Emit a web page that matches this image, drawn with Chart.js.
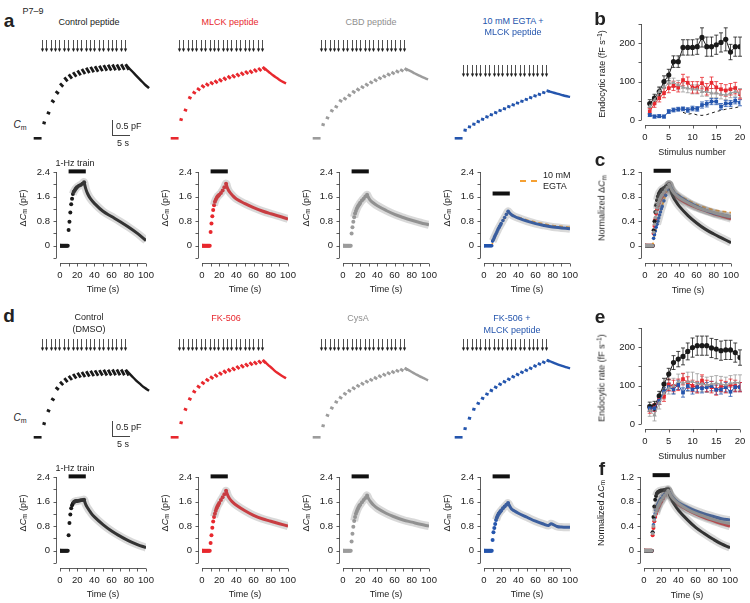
<!DOCTYPE html>
<html>
<head>
<meta charset="utf-8">
<script src="https://cdn.jsdelivr.net/npm/chart.js@4.4.1/dist/chart.umd.min.js"></script>
<style>
  body { margin: 0; width: 750px; height: 603px; position: relative; overflow: hidden; background: #fff;
         font-family: "Liberation Sans", Arial, sans-serif; color: #222; }
  canvas { position: absolute; }
  .t { position: absolute; white-space: nowrap; font-size: 9px; line-height: 1; transform: translate(-50%, -50%); }
  .t sub { font-size: 70%; vertical-align: -0.3em; line-height: 0; }
  .t sup { font-size: 70%; vertical-align: 0.45em; line-height: 0; }
  .bar { position: absolute; background: #444; }
</style>
</head>
<body>
<script>
// ---------- data ----------
const stimTimes = [0,1,2,3,4,5,6,7,8,9,10,11,12,13,14,15,16,17,18,19];

// example Cm traces: value at start of each inter-stimulus segment and its fall (pF above baseline)
const trDecayT = [19.3, 20.5, 21.5, 22.5, 23.5, 24.5];
const trCtrlPepTop  = [0.53,0.87,1.27,1.57,1.83,2.03,2.13,2.2,2.26,2.31,2.35,2.38,2.4,2.42,2.44,2.45,2.46,2.46,2.47,2.47];
const trCtrlPepDrop = [0.03,0.05,0.07,0.09,0.11,0.13,0.14,0.15,0.16,0.17,0.17,0.18,0.18,0.18,0.19,0.19,0.19,0.19,0.19,0.19];
const trCtrlPepDec  = [2.44,2.25,2.1,1.95,1.8,1.67];
const trMlckTop  = [0.64,0.96,1.38,1.55,1.67,1.77,1.83,1.88,1.93,1.98,2.03,2.08,2.12,2.16,2.2,2.24,2.27,2.31,2.34,2.38];
const trMlckDrop = [0.03,0.04,0.05,0.06,0.07,0.08,0.08,0.08,0.09,0.09,0.09,0.09,0.1,0.1,0.1,0.1,0.1,0.1,0.1,0.1];
const trMlckDec  = [2.36,2.22,2.1,2.0,1.9,1.83];
const trCbdTop  = [0.47,0.7,0.94,1.08,1.28,1.35,1.46,1.58,1.66,1.74,1.82,1.9,1.97,2.04,2.1,2.16,2.21,2.26,2.3,2.33];
const trCbdDrop = [0.03,0.04,0.05,0.05,0.06,0.06,0.06,0.07,0.07,0.07,0.07,0.07,0.07,0.07,0.07,0.07,0.07,0.07,0.07,0.07];
const trCbdDec  = [2.32,2.24,2.16,2.09,2.02,1.96];
const trEgtaTop  = [0.28,0.39,0.48,0.57,0.65,0.73,0.8,0.87,0.94,1.0,1.07,1.13,1.19,1.25,1.31,1.37,1.43,1.48,1.54,1.59];
const trEgtaDrop = [0.02,0.02,0.02,0.03,0.03,0.03,0.03,0.03,0.03,0.03,0.03,0.03,0.03,0.03,0.03,0.03,0.03,0.03,0.03,0.03];
const trEgtaDec  = [1.58,1.53,1.49,1.45,1.41,1.38];
const trDmsoTop  = [0.47,0.91,1.3,1.67,1.85,1.97,2.05,2.11,2.15,2.18,2.2,2.22,2.23,2.24,2.25,2.25,2.26,2.26,2.26,2.25];
const trDmsoDrop = [0.03,0.05,0.07,0.09,0.11,0.13,0.14,0.15,0.16,0.17,0.17,0.18,0.18,0.18,0.19,0.19,0.19,0.19,0.19,0.19];
const trDmsoDec  = [2.23,2.05,1.9,1.77,1.65,1.55];
const trFkTop  = [0.5,0.95,1.3,1.55,1.72,1.85,1.95,2.03,2.1,2.17,2.23,2.28,2.33,2.38,2.42,2.46,2.5,2.53,2.56,2.58];
const trFkDrop = [0.03,0.04,0.05,0.06,0.07,0.08,0.08,0.08,0.09,0.09,0.09,0.09,0.1,0.1,0.1,0.1,0.1,0.1,0.1,0.1];
const trFkDec  = [2.56,2.4,2.27,2.15,2.05,1.97];
const trCysTop  = [0.4,0.75,1.0,1.2,1.35,1.48,1.58,1.67,1.75,1.82,1.89,1.95,2.01,2.07,2.12,2.17,2.21,2.25,2.28,2.31];
const trCysDrop = [0.03,0.04,0.05,0.05,0.06,0.06,0.06,0.07,0.07,0.07,0.07,0.07,0.07,0.07,0.07,0.07,0.07,0.07,0.07,0.07];
const trCysDec  = [2.3,2.2,2.12,2.04,1.97,1.9];
const trFkMlckTop  = [0.3,0.65,0.95,1.15,1.32,1.46,1.58,1.69,1.79,1.88,1.96,2.04,2.12,2.19,2.26,2.33,2.4,2.47,2.53,2.58];
const trFkMlckDrop = [0.02,0.03,0.03,0.04,0.04,0.04,0.04,0.05,0.05,0.05,0.05,0.05,0.05,0.05,0.05,0.05,0.05,0.05,0.05,0.05];
const trFkMlckDec  = [2.57,2.5,2.44,2.39,2.34,2.3];

// averaged ΔCm (pF) : rise phase read at these times, decay at those
const riseT  = [0,1,2,3,4,5,6,7,8,9,10,11,12,13,14,15,16,17,18,19,20,22,24,26,28];
const decayT = [28,30,32,35,40,50,60,70,80,90,100];
const base10 = [0,0,0,0,0,0,0,0,0,0];
const dCtrlPepRise = [...base10, 0.51,0.78,1.08,1.35,1.53,1.68,1.76,1.8,1.85,1.88,1.91,1.95,1.98,2.02,2.07];
const dCtrlPepDec  = [2.07,1.85,1.7,1.55,1.38,1.12,0.95,0.78,0.6,0.4,0.17];
const dMlckRise = [...base10, 0.45,0.72,0.96,1.16,1.32,1.43,1.5,1.55,1.6,1.63,1.66,1.72,1.8,1.9,2.02];
const dMlckDec  = [2.02,1.85,1.75,1.65,1.52,1.37,1.24,1.13,1.04,0.96,0.87];
const dCbdRise = [...base10, 0.4,0.6,0.78,0.93,1.05,1.13,1.2,1.26,1.31,1.35,1.4,1.47,1.53,1.6,1.66];
const dCbdDec  = [1.66,1.55,1.47,1.4,1.3,1.15,1.02,0.92,0.83,0.75,0.68];
const dEgtaMlckRise = [...base10, 0.15,0.2,0.27,0.33,0.39,0.45,0.51,0.57,0.62,0.67,0.72,0.82,0.92,1.02,1.12];
const dEgtaMlckDec  = [1.12,1.06,1.01,0.96,0.9,0.8,0.72,0.66,0.61,0.58,0.55];
const egtaT = [0,9,10,14,18,22,28,32,40,50,60,70,80,90,100];
const dEgta = [0,0,0.1,0.35,0.6,0.8,1.08,1.02,0.93,0.84,0.77,0.71,0.66,0.63,0.6];
const dDmsoRise = [...base10, 0.5,0.9,1.18,1.38,1.48,1.54,1.58,1.6,1.61,1.62,1.62,1.63,1.64,1.65,1.66];
const dDmsoDec  = [1.66,1.5,1.4,1.27,1.1,0.85,0.64,0.47,0.32,0.2,0.1];
const dFkRise = [...base10, 0.25,0.5,0.75,0.95,1.1,1.2,1.3,1.38,1.45,1.5,1.55,1.65,1.74,1.84,1.95];
const dFkDec  = [1.95,1.8,1.7,1.6,1.48,1.3,1.15,1.04,0.96,0.88,0.8];
const dCysRise = [...base10, 0.3,0.55,0.78,0.97,1.1,1.2,1.28,1.35,1.41,1.46,1.5,1.58,1.65,1.72,1.8];
const dCysDec  = [1.8,1.68,1.6,1.5,1.38,1.22,1.1,1.0,0.93,0.86,0.8];
const fkMlckDecT = [28,30,32,35,40,50,60,70,75,78,80,85,90,100];
const dFkMlckRise = [...base10, 0.35,0.6,0.74,0.87,1.0,1.08,1.15,1.2,1.24,1.28,1.31,1.38,1.44,1.5,1.55];
const dFkMlckDec  = [1.55,1.45,1.36,1.3,1.22,1.09,0.96,0.86,0.82,0.88,0.86,0.79,0.77,0.76];

// endocytic rate (fF/s) vs stimulus number
const stimNum = [1,2,3,4,5,6,7,8,9,10,11,12,13,14,15,16,17,18,19,20];
const bCtrl = [43,57,74,100,117,152,152,189,189,189,191,215,191,191,196,202,210,177,191,191];
const bCtrlErr = [10,10,12,15,15,15,15,20,20,20,20,25,25,25,25,25,30,20,25,25];
const bMlck = [22,43,57,70,83,89,85,104,97,85,85,96,80,97,85,80,77,80,83,67];
const bMlckErr = [8,10,10,12,12,12,12,15,15,15,15,15,15,15,15,15,15,15,15,12];
const bCbd = [35,52,74,85,96,97,91,85,83,80,80,74,74,70,70,67,65,70,74,70];
const bCbdErr = [8,10,10,12,12,12,12,12,12,12,12,12,12,12,12,12,12,12,12,12];
const bEgtaMlck = [13,9,10,9,22,26,28,29,26,30,29,39,42,48,48,35,43,43,50,45];
const bEgtaMlckErr = [4,4,4,4,5,5,5,5,6,6,6,8,8,8,8,8,8,8,8,8];
const bEgtaX = [8,9,10,11,12,13,14,15,16,17,18,19,20];
const bEgta = [20,15,17,13,12,14,18,22,25,28,30,32,35];
const eDmso = [45,47,73,104,130,160,169,176,189,199,204,204,204,198,195,191,193,193,186,173];
const eDmsoErr = [12,12,12,15,15,18,20,22,22,25,25,25,25,25,25,25,25,25,25,20];
const eFk = [38,43,63,71,102,99,102,117,108,99,96,113,99,96,90,99,96,102,99,96];
const eFkErr = [10,10,12,12,15,15,15,15,15,15,15,15,15,15,15,15,15,15,15,12];
const eCys = [35,23,54,80,93,99,110,106,110,110,106,104,102,104,106,104,102,106,108,108];
const eCysErr = [15,15,15,15,15,20,20,25,25,25,25,20,20,20,20,20,20,20,20,20];
const eFkMlck = [41,41,61,84,96,90,102,82,99,90,96,93,96,99,89,90,96,84,96,96];
const eFkMlckErr = [8,8,10,10,10,12,12,12,12,12,12,12,12,12,12,12,12,12,12,12];

// normalized ΔCm
const cCtrlRise = [...base10, 0.25,0.4,0.55,0.66,0.74,0.8,0.84,0.87,0.89,0.91,0.92,0.94,0.96,0.98,1.0];
const cCtrlDec  = [1.0,0.9,0.82,0.74,0.64,0.49,0.37,0.27,0.19,0.12,0.05];
const cMlckRise = [...base10, 0.2,0.32,0.43,0.52,0.59,0.65,0.69,0.73,0.76,0.78,0.8,0.85,0.89,0.94,1.0];
const cMlckDec  = [1.0,0.93,0.88,0.82,0.76,0.68,0.62,0.57,0.52,0.48,0.44];
const cCbdRise = [...base10, 0.22,0.35,0.46,0.55,0.62,0.67,0.71,0.75,0.78,0.81,0.83,0.87,0.91,0.95,1.0];
const cCbdDec  = [1.0,0.94,0.89,0.84,0.78,0.7,0.63,0.58,0.54,0.5,0.47];
const cEgtaMlckRise = [...base10, 0.12,0.18,0.24,0.3,0.35,0.4,0.45,0.5,0.55,0.6,0.64,0.73,0.82,0.91,1.0];
const cEgtaMlckDec  = [1.0,0.95,0.9,0.85,0.8,0.71,0.64,0.58,0.53,0.5,0.47];
const cEgtaRise = [...base10, 0.1,0.16,0.22,0.28,0.34,0.4,0.45,0.5,0.55,0.6,0.65,0.74,0.83,0.92,1.0];
const cEgtaDec  = [1.0,0.96,0.92,0.87,0.82,0.74,0.67,0.62,0.58,0.56,0.54];
const fDmsoRise = [...base10, 0.3,0.55,0.72,0.83,0.89,0.93,0.95,0.96,0.97,0.975,0.98,0.985,0.99,0.995,1.0];
const fDmsoDec  = [1.0,0.9,0.84,0.76,0.66,0.51,0.38,0.28,0.19,0.11,0.05];
const fFkRise = [...base10, 0.25,0.37,0.48,0.55,0.6,0.65,0.69,0.72,0.75,0.78,0.8,0.85,0.9,0.95,0.98];
const fFkDec  = [0.98,0.92,0.87,0.82,0.75,0.67,0.6,0.54,0.49,0.44,0.4];
const fCysRise = [...base10, 0.28,0.4,0.5,0.58,0.63,0.67,0.71,0.74,0.77,0.8,0.82,0.86,0.9,0.94,0.98];
const fCysDec  = [0.98,0.93,0.88,0.83,0.77,0.68,0.61,0.56,0.51,0.47,0.44];
const fFkMlckRise = [...base10, 0.3,0.42,0.52,0.6,0.66,0.71,0.75,0.78,0.81,0.83,0.85,0.89,0.92,0.96,0.99];
const fFkMlckDec  = [0.99,0.94,0.89,0.84,0.78,0.71,0.65,0.6,0.56,0.52,0.5];

const trainOn = [10, 30];

// ---------- style ----------
const BLACK = '#1a1a1a', RED = '#e8282e', GRAY = '#9c9c9c', BLUE = '#2455ad', ORANGE = '#f5a033';
const BAND = 'rgba(120,120,120,0.28)';
Chart.defaults.font.family = '"Liberation Sans", Arial, sans-serif';
Chart.defaults.font.size = 9.5;
Chart.defaults.color = '#222';

const pts = (xs, ys) => xs.map((x, i) => ({x: x, y: ys[i]}));

function mkCanvas(l, t, w, h) {
  const c = document.createElement('canvas');
  c.width = w; c.height = h;
  c.style.left = l + 'px'; c.style.top = t + 'px';
  c.style.width = w + 'px'; c.style.height = h + 'px';
  document.body.appendChild(c);
  return c;
}

function txt(html, x, y, o) {
  o = o || {};
  const d = document.createElement('div');
  d.className = 't';
  d.innerHTML = html;
  d.style.left = x + 'px'; d.style.top = y + 'px';
  if (o.size) d.style.fontSize = o.size + 'px';
  if (o.color) d.style.color = o.color;
  if (o.bold) d.style.fontWeight = 'bold';
  if (o.rot) d.style.transform = 'translate(-50%,-50%) rotate(-90deg)';
  if (o.left) d.style.transform = 'translate(0,-50%)';
  document.body.appendChild(d);
}

function rect(l, t, w, h) {
  const d = document.createElement('div');
  d.className = 'bar';
  d.style.left = l + 'px'; d.style.top = t + 'px';
  d.style.width = w + 'px'; d.style.height = h + 'px';
  document.body.appendChild(d);
}

// axes drawn slightly apart from the plot area, journal style
const offsetAxes = {
  id: 'offsetAxes',
  afterDraw(chart, args, o) {
    const {ctx, chartArea: a} = chart, x = chart.scales.x, y = chart.scales.y;
    const ax = Math.round(a.left - o.gx) + 0.5, ay = Math.round(a.bottom + o.gy) + 0.5;
    ctx.save();
    ctx.strokeStyle = '#333'; ctx.lineWidth = 0.8;
    ctx.beginPath();
    ctx.moveTo(ax, y.getPixelForValue(y.min)); ctx.lineTo(ax, y.getPixelForValue(y.max));
    y.ticks.forEach(t => { const p = Math.round(y.getPixelForValue(t.value)) + 0.5; ctx.moveTo(ax, p); ctx.lineTo(ax - 3, p); });
    ctx.moveTo(x.getPixelForValue(x.min), ay); ctx.lineTo(x.getPixelForValue(x.max), ay);
    x.ticks.forEach(t => { const p = Math.round(x.getPixelForValue(t.value)) + 0.5; ctx.moveTo(p, ay); ctx.lineTo(p, ay + 3); });
    ctx.stroke();
    ctx.restore();
  }
};

const errBars = {
  id: 'errBars',
  beforeDatasetsDraw(chart) {
    const ctx = chart.ctx, y = chart.scales.y;
    chart.data.datasets.forEach((ds, i) => {
      if (!ds.errs) return;
      const meta = chart.getDatasetMeta(i);
      ctx.save();
      ctx.strokeStyle = ds.borderColor; ctx.lineWidth = 0.8;
      ctx.beginPath();
      meta.data.forEach((pt, j) => {
        const v = ds.data[j].y, e = ds.errs[j];
        const y1 = y.getPixelForValue(v + e), y2 = y.getPixelForValue(v - e);
        ctx.moveTo(pt.x, y1); ctx.lineTo(pt.x, y2);
        ctx.moveTo(pt.x - 2, y1); ctx.lineTo(pt.x + 2, y1);
        ctx.moveTo(pt.x - 2, y2); ctx.lineTo(pt.x + 2, y2);
      });
      ctx.stroke();
      ctx.restore();
    });
  }
};

const stimArrows = {
  id: 'stimArrows',
  afterDraw(chart, args, o) {
    const ctx = chart.ctx, x = chart.scales.x;
    ctx.save();
    ctx.strokeStyle = '#222'; ctx.fillStyle = '#222'; ctx.lineWidth = 0.8;
    stimTimes.forEach(t => {
      const px = Math.round(x.getPixelForValue(t)) + 0.5;
      ctx.beginPath(); ctx.moveTo(px, o.top); ctx.lineTo(px, o.top + o.len - 2); ctx.stroke();
      ctx.beginPath();
      ctx.moveTo(px - 1.7, o.top + o.len - 3.5); ctx.lineTo(px + 1.7, o.top + o.len - 3.5); ctx.lineTo(px, o.top + o.len);
      ctx.closePath(); ctx.fill();
    });
    ctx.restore();
  }
};

// ---------- chart builders ----------
const YW = 46, XH = 34, PT = 12, PR = 16;
function axisChart(area, datasets, sc) {
  const w = area.r - area.l, h = area.b - area.t;
  const cv = mkCanvas(area.l - YW, area.t - PT, YW + w + PR, PT + h + XH);
  return new Chart(cv, {
    type: 'scatter',
    data: {datasets: datasets},
    options: {
      responsive: false, animation: false, events: [],
      layout: {padding: {left: 0, top: PT, right: PR, bottom: 0}},
      plugins: {legend: {display: false}, tooltip: {enabled: false}, offsetAxes: {gx: sc.gx, gy: sc.gy}},
      scales: {
        x: {type: 'linear', min: sc.xmin, max: sc.xmax,
            grid: {display: false, drawTicks: false}, border: {display: false},
            ticks: {stepSize: sc.xstep, padding: 12, autoSkip: false, maxRotation: 0, callback: sc.xfmt},
            afterFit: s => { s.height = XH; s.paddingLeft = 0; s.paddingRight = 0; }},
        y: {type: 'linear', min: sc.ymin, max: sc.ymax,
            grid: {display: false, drawTicks: false}, border: {display: false},
            ticks: {stepSize: sc.ystep, padding: 10, autoSkip: false, callback: sc.yfmt},
            afterFit: s => { s.width = YW; s.paddingTop = 0; s.paddingBottom = 0; }}
      }
    },
    plugins: [offsetAxes, errBars]
  });
}

const fmtTime = v => (v % 20 === 0 ? String(v) : '');
const fmtDcm = v => { const k = Math.round(v * 10); return k >= 0 && k % 8 === 0 ? (k === 0 ? '0' : v.toFixed(1)) : ''; };
const fmtNorm = v => { const k = Math.round(v * 10); return k >= 0 && k % 4 === 0 ? (k === 0 ? '0' : v.toFixed(1)) : ''; };
const fmtRate = v => (v % 100 === 0 ? String(v) : '');

function traceSets(rise, dec, col, dT, dotR, bandFrom) {
  const r = pts(riseT, rise), d = pts(dT || decayT, dec);
  return [
    {data: r.filter(p => p.x >= bandFrom).concat(d.slice(1)), showLine: true, borderColor: BAND, borderWidth: 8, pointRadius: 0, tension: 0.4},
    {data: d, showLine: true, borderColor: col, borderWidth: 3, pointRadius: 0, tension: 0.4},
    {data: r, pointRadius: dotR, pointBackgroundColor: col, pointBorderWidth: 0}
  ];
}
const trainBar = y => ({data: [{x: trainOn[0], y: y}, {x: trainOn[1], y: y}], showLine: true,
  borderColor: '#111', borderWidth: 4, pointRadius: 0, clip: false});

function dcmChart(x0, top, sets) {
  axisChart({l: x0, r: x0 + 86, t: top, b: top + 86}, sets,
    {xmin: 0, xmax: 100, xstep: 10, xfmt: fmtTime, ymin: -0.4, ymax: 2.4, ystep: 0.4, yfmt: fmtDcm, gx: 4, gy: 5});
  txt('Time (s)', x0 + 43, top + 117);
  txt('Δ<i>C</i><sub>m</sub> (pF)', x0 - 37, top + 36, {rot: true});
}

function normChart(x0, top, sets) {
  axisChart({l: x0, r: x0 + 86, t: top, b: top + 86}, sets,
    {xmin: 0, xmax: 100, xstep: 10, xfmt: fmtTime, ymin: -0.2, ymax: 1.2, ystep: 0.2, yfmt: fmtNorm, gx: 4, gy: 4.5});
  txt('Time (s)', x0 + 43, top + 118);
  txt('Normalized Δ<i>C</i><sub>m</sub>', x0 - 43, top + 36, {rot: true});
}

function rateChart(top, sets) {
  axisChart({l: 645, r: 740, t: top, b: top + 96}, sets,
    {xmin: 0, xmax: 20, xstep: 5, ymin: 0, ymax: 250, ystep: 50, yfmt: fmtRate, gx: 4, gy: 5});
  txt('Stimulus number', 692, top + 128);
  txt('Endocytic rate (fF s<sup>–1</sup>)', 602, top + 50, {rot: true});
}
const rateSet = (ys, errs, col, shape) => ({data: pts(stimNum, ys), errs: errs, showLine: true, borderColor: col,
  borderWidth: 1, pointRadius: 2.6, pointStyle: shape, pointBackgroundColor: col, pointBorderColor: col, pointBorderWidth: 0});

const PXS = 4.37, PXPF = 30;
function cmTrace(x0, top, base, arrowTop, tops, drops, dec, col) {
  const W = 127, H = 110;
  const cv = mkCanvas(x0 - 13, top, W, H);
  const seg = [];
  stimTimes.forEach((t, i) => {
    seg.push({x: t + 0.12, y: tops[i]}, {x: t + 0.85, y: tops[i] - drops[i]}, {x: t + 0.9, y: null});
  });
  new Chart(cv, {
    type: 'scatter',
    data: {datasets: [
      {data: [{x: -1.9, y: 0}, {x: -0.1, y: 0}], showLine: true, borderColor: col, borderWidth: 2.6, pointRadius: 0},
      {data: seg, showLine: true, spanGaps: false, borderColor: col, borderWidth: 2.8, pointRadius: 0},
      {data: pts(trDecayT, dec), showLine: true, borderColor: col, borderWidth: 2.4, pointRadius: 0, tension: 0.4}
    ]},
    options: {
      responsive: false, animation: false, events: [],
      layout: {padding: 0},
      plugins: {legend: {display: false}, tooltip: {enabled: false}, stimArrows: {top: arrowTop - top, len: 12}},
      scales: {
        x: {type: 'linear', display: false, min: -13 / PXS, max: (W - 13) / PXS},
        y: {type: 'linear', display: false, min: -(top + H - base) / PXPF, max: (base - top) / PXPF}
      }
    },
    plugins: [stimArrows]
  });
}

// ---------- panel a ----------
const colX = [42, 179, 321, 463];
cmTrace(colX[0], 35, 138.3, 40, trCtrlPepTop, trCtrlPepDrop, trCtrlPepDec, BLACK);
cmTrace(colX[1], 35, 138.3, 40, trMlckTop, trMlckDrop, trMlckDec, RED);
cmTrace(colX[2], 35, 138.3, 40, trCbdTop, trCbdDrop, trCbdDec, GRAY);
cmTrace(colX[3], 35, 138.3, 65, trEgtaTop, trEgtaDrop, trEgtaDec, BLUE);

const dcmX = [60, 202, 343, 484];
dcmChart(dcmX[0], 172, [...traceSets(dCtrlPepRise, dCtrlPepDec, BLACK, null, 2, 15), trainBar(2.42)]);
dcmChart(dcmX[1], 172, [...traceSets(dMlckRise, dMlckDec, RED, null, 2, 14), trainBar(2.42)]);
dcmChart(dcmX[2], 172, [...traceSets(dCbdRise, dCbdDec, GRAY, null, 2, 13), trainBar(2.42)]);
dcmChart(dcmX[3], 172, [...traceSets(dEgtaMlckRise, dEgtaMlckDec, BLUE, null, 1.8, 10),
  {data: pts(egtaT, dEgta), showLine: true, borderColor: ORANGE, borderWidth: 1.6, borderDash: [4, 3], pointRadius: 0, tension: 0.3},
  trainBar(1.7)]);

// ---------- panel b ----------
rateChart(24, [
  rateSet(bCbd, bCbdErr, GRAY, 'triangle'),
  {data: pts(bEgtaX, bEgta), showLine: true, borderColor: BLACK, borderWidth: 1, borderDash: [3, 3], pointRadius: 0},
  rateSet(bEgtaMlck, bEgtaMlckErr, BLUE, 'rect'),
  rateSet(bMlck, bMlckErr, RED, 'rect'),
  rateSet(bCtrl, bCtrlErr, BLACK, 'circle')
]);

// ---------- panel c ----------
normChart(645, 172, [
  ...traceSets(cCbdRise, cCbdDec, GRAY, null, 1.8, 14),
  ...traceSets(cCtrlRise, cCtrlDec, BLACK, null, 2, 14),
  ...traceSets(cEgtaMlckRise, cEgtaMlckDec, BLUE, null, 1.8, 14),
  {data: pts(riseT, cEgtaRise).concat(pts(decayT, cEgtaDec).slice(1)), showLine: true, borderColor: ORANGE, borderWidth: 1.8, borderDash: [4, 3], pointRadius: 0, tension: 0.3},
  ...traceSets(cMlckRise, cMlckDec, RED, null, 2, 14),
  trainBar(1.22)
]);

// ---------- panel d ----------
cmTrace(colX[0], 334, 437.3, 339, trDmsoTop, trDmsoDrop, trDmsoDec, BLACK);
cmTrace(colX[1], 334, 437.3, 339, trFkTop, trFkDrop, trFkDec, RED);
cmTrace(colX[2], 334, 437.3, 339, trCysTop, trCysDrop, trCysDec, GRAY);
cmTrace(colX[3], 334, 437.3, 339, trFkMlckTop, trFkMlckDrop, trFkMlckDec, BLUE);

dcmChart(dcmX[0], 477, [...traceSets(dDmsoRise, dDmsoDec, BLACK, null, 2, 15), trainBar(2.42)]);
dcmChart(dcmX[1], 477, [...traceSets(dFkRise, dFkDec, RED, null, 2, 14), trainBar(2.42)]);
dcmChart(dcmX[2], 477, [...traceSets(dCysRise, dCysDec, GRAY, null, 2, 13), trainBar(2.42)]);
dcmChart(dcmX[3], 477, [...traceSets(dFkMlckRise, dFkMlckDec, BLUE, fkMlckDecT, 2, 14), trainBar(2.42)]);

// ---------- panel e ----------
rateChart(328, [
  rateSet(eCys, eCysErr, GRAY, 'triangle'),
  rateSet(eFkMlck, eFkMlckErr, BLUE, 'rect'),
  rateSet(eFk, eFkErr, RED, 'rect'),
  rateSet(eDmso, eDmsoErr, BLACK, 'circle')
]);

// ---------- panel f ----------
normChart(644, 477, [
  ...traceSets(fCysRise, fCysDec, GRAY, null, 1.8, 14),
  ...traceSets(fDmsoRise, fDmsoDec, BLACK, null, 2, 14),
  ...traceSets(fFkMlckRise, fFkMlckDec, BLUE, null, 1.8, 14),
  ...traceSets(fFkRise, fFkDec, RED, null, 2, 14),
  trainBar(1.23)
]);

// ---------- labels ----------
txt('P7–9', 33, 10.5);
txt('a', 9, 20, {size: 19, bold: true});
txt('b', 600, 18, {size: 19, bold: true});
txt('c', 600, 159, {size: 19, bold: true});
txt('d', 9, 315, {size: 19, bold: true});
txt('e', 600, 316, {size: 19, bold: true});
txt('f', 602, 468, {size: 19, bold: true});

txt('Control peptide', 89, 21.5);
txt('MLCK peptide', 230, 21.5, {color: RED});
txt('CBD peptide', 371, 21.5, {color: '#8f8f8f'});
txt('10 mM EGTA +', 513, 21, {color: BLUE});
txt('MLCK peptide', 513, 32, {color: BLUE});
txt('Control', 89, 317);
txt('(DMSO)', 89, 329);
txt('FK-506', 226, 318, {color: RED});
txt('CysA', 358, 318, {color: '#8f8f8f'});
txt('FK-506 +', 512, 318, {color: BLUE});
txt('MLCK peptide', 512, 330, {color: BLUE});

[[125, 120], [418, 421]].forEach(([cmY, barTop]) => {
  txt('<i>C</i><sub>m</sub>', 20, cmY, {size: 10, color: '#222'});
  rect(112, barTop, 1, 15);
  rect(112, barTop + 15, 18, 1);
  txt('0.5 pF', 116, barTop + 6, {left: true});
  txt('5 s', 117, barTop + 23, {left: true});
});
txt('1-Hz train', 75, 163);
txt('1-Hz train', 75, 468);

// EGTA legend
const lg = document.createElement('div');
lg.style.cssText = 'position:absolute;left:520px;top:180px;width:17px;border-top:2px dashed ' + ORANGE;
document.body.appendChild(lg);
txt('10 mM', 543, 175, {left: true});
txt('EGTA', 543, 185.5, {left: true});
</script>
</body>
</html>
